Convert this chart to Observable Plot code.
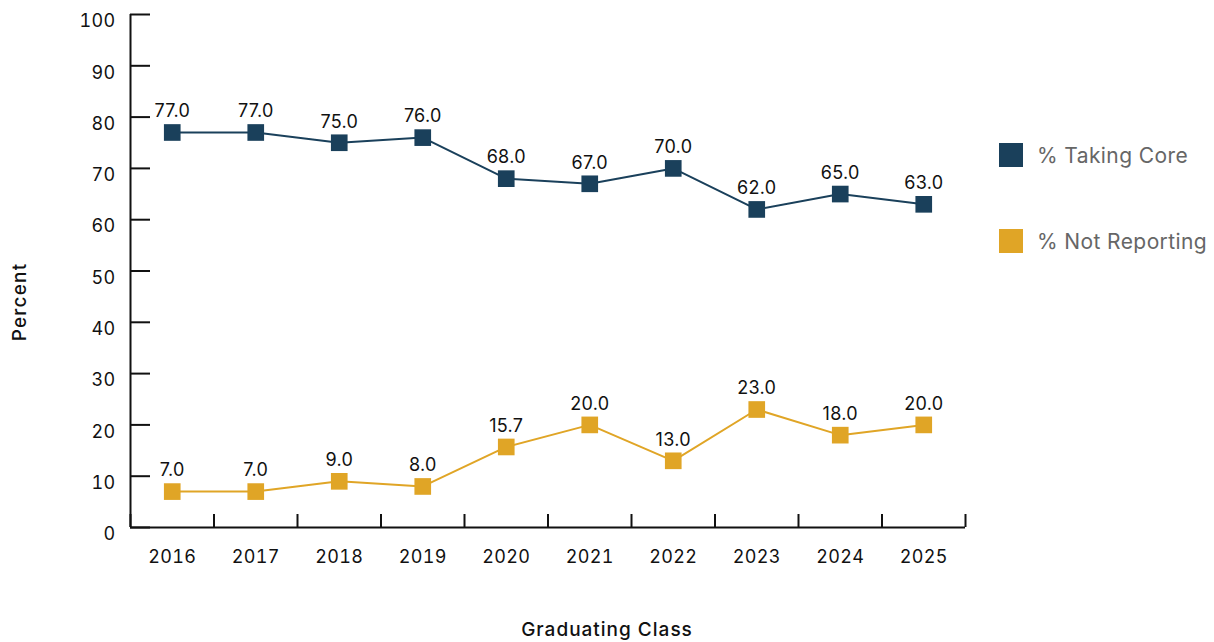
<!DOCTYPE html>
<html><head><meta charset="utf-8">
<script src="https://cdn.jsdelivr.net/npm/d3@7"></script>
<script src="https://cdn.jsdelivr.net/npm/@observablehq/plot@0.6"></script>
<style>
body{margin:0;background:#fff;font-family:Inter,"Open Sans",sans-serif;}
#wrap{position:relative;width:1214px;height:642px;overflow:hidden;}
.legend{position:absolute;left:999px;}
.item{position:absolute;left:0;display:flex;align-items:center;white-space:nowrap;height:24px;}
.sw{width:24px;height:24px;margin-right:14px;flex:none;}
.lbl{font-size:21px;color:#666;letter-spacing:0.4px;}
</style></head><body><div id="wrap"></div>
<script>
const years = ["2016","2017","2018","2019","2020","2021","2022","2023","2024","2025"];
const takingCore = [77,77,75,76,68,67,70,62,65,63];
const notReporting = [7,7,9,8,15.7,20,13,23,18,20];
const seriesNames = ["% Taking Core","% Not Reporting"];
const seriesColors = ["#1a405b","#e0a526"];
const yTicks = d3.range(0,101,10);

const data = years.flatMap((yr,i)=>[
  {i, year:yr, series:seriesNames[0], value:takingCore[i]},
  {i, year:yr, series:seriesNames[1], value:notReporting[i]}
]);

const plot = Plot.plot({
  width:1214, height:642,
  marginLeft:130, marginRight:249, marginTop:14, marginBottom:115,
  style:{fontFamily:"Inter, 'Open Sans', sans-serif", fontSize:"18px", color:"#111", background:"#fff", letterSpacing:"0.3px"},
  x:{type:"linear", domain:[-0.5, years.length-0.5]},
  y:{domain:[0,100]},
  color:{domain:seriesNames, range:seriesColors},
  marks:[
    Plot.axisY({ticks:yTicks, tickSize:-20, tickFormat:()=>"", strokeWidth:2, label:null, stroke:"#111"}),
    Plot.axisY({ticks:yTicks, tickSize:0, tickPadding:15, dy:7, label:null, fill:"#111"}),
    Plot.axisX({ticks:d3.range(-0.5, years.length, 1), tickSize:-13, tickFormat:()=>"", strokeWidth:2, label:null, stroke:"#111"}),
    Plot.axisX({ticks:d3.range(years.length), tickSize:0, tickPadding:23, tickFormat:i=>years[i], label:null, fill:"#111"}),
    Plot.ruleX([-0.5], {strokeWidth:2, stroke:"#111"}),
    Plot.ruleY([0], {strokeWidth:2, stroke:"#111"}),
    Plot.line(data, {x:"i", y:"value", z:"series", stroke:"series", strokeWidth:2}),
    Plot.dot(data, {x:"i", y:"value", fill:"series", symbol:"square", r:9.4}),
    Plot.text(data, {x:"i", y:"value", text:d=>d.value.toFixed(1), dy:-21, fontSize:18, fill:"#111"})
  ]
});

const svg = d3.select(plot);
svg.append("text").attr("x",607).attr("y",636).attr("text-anchor","middle")
  .attr("font-size",19).attr("font-weight",500).attr("letter-spacing","1px").attr("fill","#111").text("Graduating Class");
svg.append("text").attr("transform","translate(26,302) rotate(-90)").attr("text-anchor","middle")
  .attr("font-size",19).attr("font-weight",500).attr("letter-spacing","1.2px").attr("fill","#111").text("Percent");

const wrap = document.getElementById("wrap");
wrap.appendChild(plot);
const legend = document.createElement("div");
legend.className = "legend";
legend.style.top = "0px";
const rowTops = [143, 229];
seriesNames.forEach((name, k) => {
  const it = document.createElement("div");
  it.className = "item";
  it.style.top = rowTops[k] + "px";
  it.innerHTML = `<span class="sw" style="background:${seriesColors[k]}"></span><span class="lbl">${name}</span>`;
  legend.appendChild(it);
});
wrap.appendChild(legend);
</script>
</body></html>
